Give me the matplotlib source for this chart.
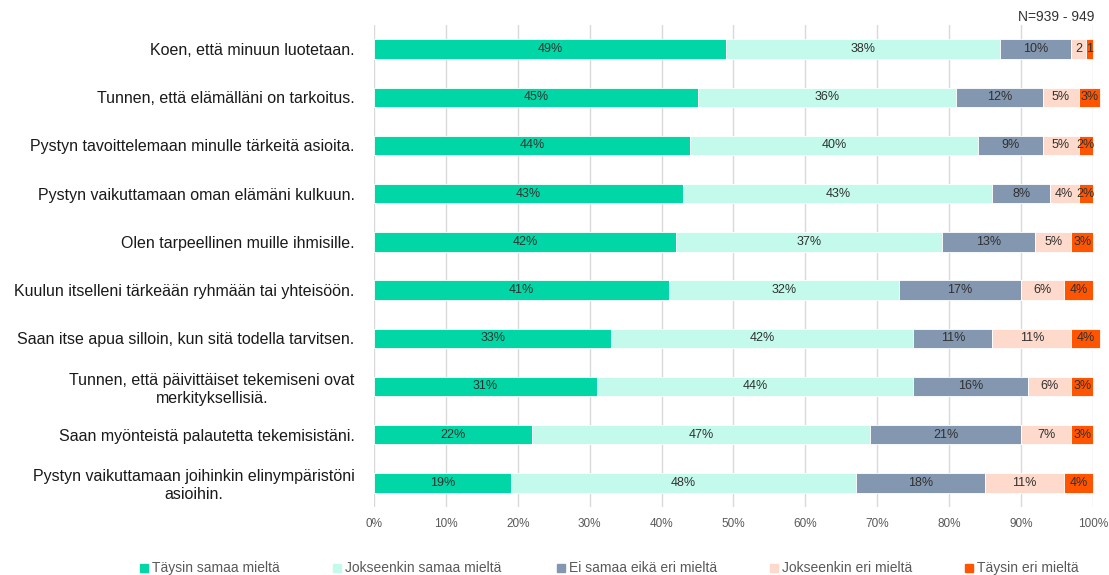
import matplotlib.pyplot as plt
from matplotlib.patches import Rectangle

plt.rcParams['font.family'] = ['Liberation Sans', 'DejaVu Sans']

statements = [
    "Koen, että minuun luotetaan.",
    "Tunnen, että elämälläni on tarkoitus.",
    "Pystyn tavoittelemaan minulle tärkeitä asioita.",
    "Pystyn vaikuttamaan oman elämäni kulkuun.",
    "Olen tarpeellinen muille ihmisille.",
    "Kuulun itselleni tärkeään ryhmään tai yhteisöön.",
    "Saan itse apua silloin, kun sitä todella tarvitsen.",
    "Tunnen, että päivittäiset tekemiseni ovat\nmerkityksellisiä.",
    "Saan myönteistä palautetta tekemisistäni.",
    "Pystyn vaikuttamaan joihinkin elinympäristöni\nasioihin.",
]
series = ["Täysin samaa mieltä", "Jokseenkin samaa mieltä",
          "Ei samaa eikä eri mieltä", "Jokseenkin eri mieltä",
          "Täysin eri mieltä"]
taysin_samaa = [49, 45, 44, 43, 42, 41, 33, 31, 22, 19]
jokseenkin_samaa = [38, 36, 40, 43, 37, 32, 42, 44, 47, 48]
ei_samaa_eika_eri = [10, 12, 9, 8, 13, 17, 11, 16, 21, 18]
jokseenkin_eri = [2, 5, 5, 4, 5, 6, 11, 6, 7, 11]
taysin_eri = [1, 3, 2, 2, 3, 4, 4, 3, 3, 4]
colors = ["#00D6A6", "#C4FAEC", "#8497B0", "#FDDACB", "#FF5500"]

values = [taysin_samaa, jokseenkin_samaa, ei_samaa_eika_eri,
          jokseenkin_eri, taysin_eri]

fig = plt.figure(figsize=(11.09, 5.75), dpi=100)
ax = fig.add_axes([374 / 1109, 1 - 507 / 575, 719 / 1109, 482 / 575])

y = list(range(len(statements)))
left = [0] * len(statements)
for k, (vals, col) in enumerate(zip(values, colors)):
    ax.barh(y, vals, left=left, height=0.4, color=col,
            edgecolor="white", linewidth=0.6, clip_on=False, zorder=2)
    for i, v in enumerate(vals):
        lab = f"{v}%" if not (i == 0 and v < 3) else f"{v}"
        ax.text(left[i] + v / 2, i, lab, ha="center", va="center",
                fontsize=9, color="#303030", zorder=3)
    left = [a + b for a, b in zip(left, vals)]

ax.set_xlim(0, 100)
ax.set_ylim(len(statements) - 0.5, -0.5)
ax.set_xticks(range(0, 101, 10))
ax.set_xticklabels([f"{t}%" for t in range(0, 101, 10)],
                   fontsize=8.5, color="#595959")
ax.set_yticks(y)
ax.set_yticklabels(statements, fontsize=11.5, color="#1a1a1a",
                   multialignment="center", linespacing=1.25)
ax.tick_params(axis="both", length=0)
ax.tick_params(axis="y", pad=14)
ax.tick_params(axis="x", pad=8)
ax.grid(axis="x", color="#d9d9d9", linewidth=1, zorder=0)
ax.set_axisbelow(True)
for s in ax.spines.values():
    s.set_visible(False)

fig.text(1094 / 1109, 1 - 17 / 575, "N=939 - 949", ha="right", va="center",
         fontsize=10, color="#333333")

# legend
leg_x = [140, 333, 557, 770, 965]
for lx, name, col in zip(leg_x, series, colors):
    fig.patches.append(Rectangle((lx / 1109, 1 - 572 / 575), 8 / 1109, 8 / 575,
                                 transform=fig.transFigure, color=col))
    fig.text((lx + 12) / 1109, 1 - 568 / 575, name, ha="left", va="center",
             fontsize=10, color="#595959")

fig.savefig("out.png", dpi=100)
